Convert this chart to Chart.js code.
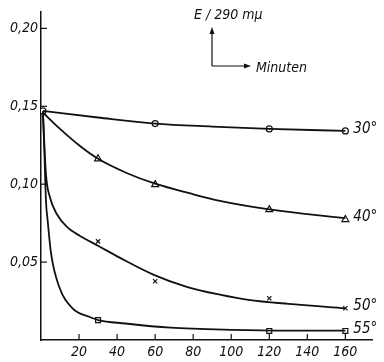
<!DOCTYPE html>
<html>
<head>
<meta charset="utf-8">
<script src="https://cdn.jsdelivr.net/npm/chart.js@4"></script>
<style>
  html, body { margin: 0; padding: 0; background: #fff; }
  #wrap { width: 384px; height: 362px; }
</style>
</head>
<body>
<div id="wrap"><canvas id="chart"></canvas></div>
<script>
// tick labels
const xTicks = [20, 40, 60, 80, 100, 120, 140, 160];
const yTicks = [0.05, 0.10, 0.15, 0.20];

// smooth curves (minutes, E)
const curve30X = [1, 30, 60, 90, 120, 160];
const curve30Y = [0.147, 0.1428, 0.1389, 0.137, 0.1355, 0.1342];
const curve40X = [1, 10, 20.5, 30, 45, 60, 78, 94, 120, 140, 160];
const curve40Y = [0.146, 0.1355, 0.1245, 0.1163, 0.1072, 0.1003, 0.0942, 0.0893, 0.0838, 0.0808, 0.0782];
const curve50X = [1, 2.6, 4.7, 8.3, 13.5, 20.5, 30, 41.6, 59, 77, 94, 109, 130, 160];
const curve50Y = [0.146, 0.1065, 0.0916, 0.0809, 0.0727, 0.0668, 0.0605, 0.0527, 0.042, 0.034, 0.0291, 0.0258, 0.0232, 0.0204];
const curve55X = [1, 1.8, 2.6, 3.5, 5.3, 9.6, 16.7, 25.4, 30, 44.4, 68, 100, 130, 160];
const curve55Y = [0.147, 0.12, 0.0895, 0.0767, 0.0554, 0.034, 0.0202, 0.0149, 0.0128, 0.0106, 0.0079, 0.0065, 0.006, 0.006];

// measured points
const startX = [1];
const startY = [0.147];
const mark30X = [60, 120, 160];
const mark30Y = [0.1389, 0.1355, 0.1342];
const mark40X = [30, 60, 120, 160];
const mark40Y = [0.1163, 0.0997, 0.0837, 0.0773];
const mark50X = [30, 60, 120, 160];
const mark50Y = [0.0633, 0.0377, 0.0268, 0.0204];
const mark55X = [30, 120, 160];
const mark55Y = [0.0128, 0.0058, 0.0058];

const seriesLabels = ['30°', '40°', '50°', '55°'];

const FONT = '"DejaVu Sans Condensed", "Liberation Sans Narrow", "DejaVu Sans", sans-serif';

function pts(xs, ys) {
    return xs.map((x, i) => ({ x: x, y: ys[i] }));
}

function curve(xs, ys) {
    return {
        data: pts(xs, ys),
        showLine: true,
        borderColor: '#111',
        borderWidth: 1.8,
        pointRadius: 0,
        cubicInterpolationMode: 'monotone',
        fill: false
    };
}

function marks(xs, ys, style, r) {
    return {
        data: pts(xs, ys),
        showLine: false,
        pointStyle: style,
        pointRadius: r,
        pointBorderWidth: 1.2,
        pointBorderColor: '#111',
        pointBackgroundColor: '#fff'
    };
}

const extras = {
    id: 'extras',
    afterDraw(chart) {
        const ctx = chart.ctx;
        const xs = chart.scales.x, ys = chart.scales.y;
        ctx.save();
        ctx.strokeStyle = '#111';
        ctx.lineWidth = 1.2;
        // inner tick marks
        xTicks.forEach(v => {
            const px = xs.getPixelForValue(v);
            ctx.beginPath();
            ctx.moveTo(px, ys.bottom);
            ctx.lineTo(px, ys.bottom - 6);
            ctx.stroke();
        });
        yTicks.forEach(v => {
            const py = ys.getPixelForValue(v);
            ctx.beginPath();
            ctx.moveTo(xs.left, py);
            ctx.lineTo(xs.left + 6, py);
            ctx.stroke();
        });
        // series labels at the end of each curve
        ctx.fillStyle = '#111';
        ctx.font = 'italic 15px ' + FONT;
        ctx.textBaseline = 'middle';
        const ends = [mark30Y, mark40Y, mark50Y, mark55Y];
        ends.forEach((arr, i) => {
            const px = xs.getPixelForValue(160) + 8;
            const py = ys.getPixelForValue(arr[arr.length - 1]) - 2;
            ctx.fillText(seriesLabels[i], px, py);
        });
        // axis key in the upper right
        ctx.font = 'italic 14px ' + FONT;
        ctx.fillText('E / 290 mμ', 194, 15);
        ctx.fillText('Minuten', 256, 68);
        ctx.lineWidth = 1.2;
        ctx.beginPath();
        ctx.moveTo(212, 66);
        ctx.lineTo(212, 31);
        ctx.moveTo(212, 66);
        ctx.lineTo(246, 66);
        ctx.stroke();
        ctx.beginPath();
        ctx.moveTo(212, 27); ctx.lineTo(209.5, 34); ctx.lineTo(214.5, 34); ctx.closePath();
        ctx.moveTo(251, 66); ctx.lineTo(244, 63.5); ctx.lineTo(244, 68.5); ctx.closePath();
        ctx.fill();
        ctx.restore();
    }
};

new Chart(document.getElementById('chart'), {
    type: 'scatter',
    data: {
        datasets: [
            curve(curve30X, curve30Y),
            curve(curve40X, curve40Y),
            curve(curve50X, curve50Y),
            curve(curve55X, curve55Y),
            marks(startX, startY, 'circle', 3),
            marks(mark30X, mark30Y, 'circle', 3),
            marks(mark40X, mark40Y, 'triangle', 4),
            marks(mark50X, mark50Y, 'crossRot', 3),
            marks(mark55X, mark55Y, 'rect', 3.5)
        ]
    },
    options: {
        responsive: true,
        maintainAspectRatio: false,
        animation: false,
        layout: { padding: { top: 10, right: 12, left: 0, bottom: 0 } },
        plugins: { legend: { display: false }, tooltip: { enabled: false } },
        scales: {
            x: {
                type: 'linear',
                min: 0,
                max: 174,
                afterBuildTicks: s => { s.ticks = xTicks.map(v => ({ value: v })); },
                afterFit: s => { s.height = 22; },
                grid: { display: false, drawTicks: false },
                border: { color: '#111', width: 1.5 },
                ticks: {
                    color: '#111',
                    padding: 4,
                    maxRotation: 0,
                    font: { family: FONT, style: 'italic', size: 14 }
                }
            },
            y: {
                type: 'linear',
                min: 0,
                max: 0.2109,
                afterBuildTicks: s => { s.ticks = yTicks.map(v => ({ value: v })); },
                afterFit: s => { s.width = 41; },
                grid: { display: false, drawTicks: false },
                border: { color: '#111', width: 1.5 },
                ticks: {
                    color: '#111',
                    padding: 3,
                    font: { family: FONT, style: 'italic', size: 14 },
                    callback: v => v.toFixed(2).replace('.', ',')
                }
            }
        }
    },
    plugins: [extras]
});
</script>
</body>
</html>
